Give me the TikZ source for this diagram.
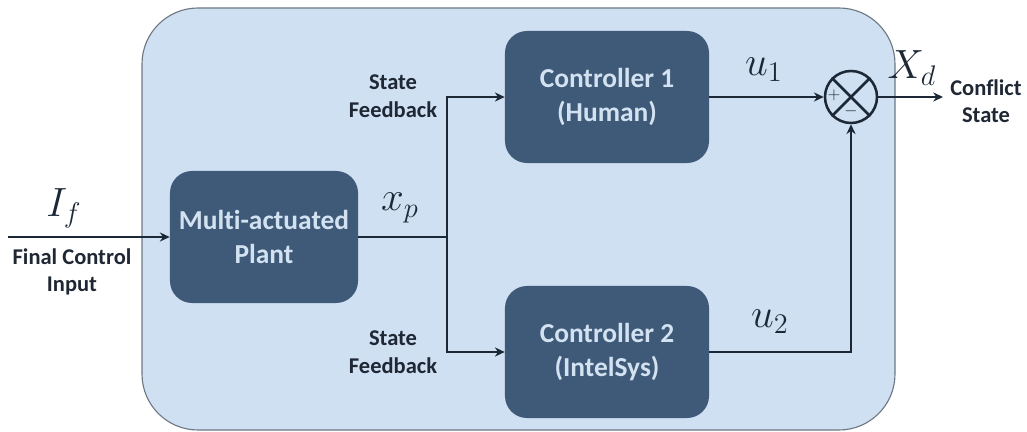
\documentclass[tikz,border=0pt]{standalone}
\usepackage{fontspec}
\setmainfont{Carlito}[Ligatures=NoCommon]
\usepackage{tikz}
\usetikzlibrary{positioning, calc, arrows.meta}
\tikzset{>={Stealth[length=7pt,width=6.5pt]}}
\usepackage{xcolor}
\definecolor{blockblue}{HTML}{3E5A78}
\definecolor{blocktext}{HTML}{D3E2F1}
\definecolor{bgblue}{HTML}{CFE0F2}
\definecolor{bgline}{HTML}{6E7884}
\definecolor{sigline}{HTML}{1C2836}
\definecolor{lbltext}{HTML}{1E2733}
\newcommand{\siglabel}[1]{\scalebox{1.4}{$#1$}}

\tikzset{
	block/.style={rectangle, rounded corners=0.55cm, fill=blockblue, text=blocktext, align=center,
		font=\fontsize{19.5}{24}\selectfont\bfseries, minimum width=5.1cm, minimum height=3.3cm},
	sig/.style={draw=sigline, line width=2pt},
	lbl/.style={text=lbltext, align=center, font=\fontsize{16}{19.5}\selectfont\bfseries},
	mathlbl/.style={text=sigline, font=\fontsize{20.74}{22}\selectfont},
}

\begin{document}
\begin{tikzpicture}[x=0.025cm, y=-0.025cm]
	\useasboundingbox (0,0) rectangle (1027,432);
	% background
	\draw[draw=bgline, line width=0.8pt, fill=bgblue, rounded corners=1.4cm] (142,8) rectangle (895,430);

	% blocks
	\node[block, minimum width=4.7cm] (plant) at (264,237) {Multi-actuated\\Plant};
	\node[block] (ctrl1) at (607,97) {Controller 1\\(Human)};
	\node[block] (ctrl2) at (607,352) {Controller 2\\(IntelSys)};
	\node[circle, draw=sigline, line width=1.8pt, minimum size=1.3cm, inner sep=0pt] (sum) at (851,97) {};
	\draw[draw=sigline, line width=1.8pt] (sum.north west) -- (sum.south east) (sum.north east) -- (sum.south west);
	\node[text=sigline, font=\fontsize{13}{13}\selectfont] (plus) at (834,95) {$+$};
	\node[text=sigline, font=\fontsize{13}{13}\selectfont] (minus) at (851,111) {$-$};

	% points
	\coordinate (in) at (8,237);
	\coordinate (br) at (447,237);
	\coordinate (out) at (943,97);

	% signals
	\draw[sig,->] (in) -- (plant.west);
	\draw[sig] (plant.east) -- (br);
	\draw[sig,->] (br) |- (ctrl1.west);
	\draw[sig,->] (br) |- (ctrl2.west);
	\draw[sig,->] (ctrl1.east) -- (sum.west);
	\draw[sig,->] (ctrl2.east) -| (sum.south);
	\draw[sig,->] (sum.east) -- (out);

	% labels
	\node[mathlbl] (iflbl) at (64,208) {\siglabel{I_f}};
	\node[lbl] (inlbl) at (72,272) {Final Control\\Input};
	\node[mathlbl] (xplbl) at (400,208) {\siglabel{x_p}};
	\node[lbl] (fb1) at (393,96) {State\\Feedback};
	\node[lbl] (fb2) at (393,352) {State\\Feedback};
	\node[mathlbl] (u1lbl) at (764,70) {\siglabel{u_1}};
	\node[mathlbl] (u2lbl) at (770,322) {\siglabel{u_2}};
	\node[mathlbl] (xdlbl) at (912,68) {\siglabel{X_d}};
	\node[lbl] (outlbl) at (986,101) {Conflict\\State};
\end{tikzpicture}
\end{document}
